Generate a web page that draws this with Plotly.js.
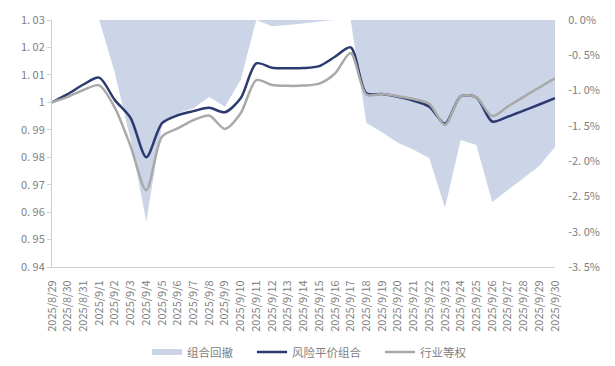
<!DOCTYPE html>
<html>
<head>
<meta charset="utf-8">
<script src="https://cdn.plot.ly/plotly-3.0.1.min.js"></script>
<style>html,body{margin:0;padding:0;background:#fff}#chart{width:615px;height:366px}</style>
</head>
<body>
<div id="chart"></div>
<script>
var dates = ['2025/8/29','2025/8/30','2025/8/31','2025/9/1','2025/9/2','2025/9/3','2025/9/4','2025/9/5','2025/9/6','2025/9/7','2025/9/8','2025/9/9','2025/9/10','2025/9/11','2025/9/12','2025/9/13','2025/9/14','2025/9/15','2025/9/16','2025/9/17','2025/9/18','2025/9/19','2025/9/20','2025/9/21','2025/9/22','2025/9/23','2025/9/24','2025/9/25','2025/9/26','2025/9/27','2025/9/28','2025/9/29','2025/9/30'];

// 组合回撤 (%)
var drawdown = [0,0,0,0,-0.75,-1.7,-2.86,-1.48,-1.32,-1.25,-1.09,-1.23,-0.85,0,-0.09,-0.07,-0.05,-0.02,0,0,-1.46,-1.59,-1.74,-1.84,-1.96,-2.66,-1.70,-1.77,-2.58,-2.41,-2.24,-2.07,-1.80];

// 风险平价组合
var riskParity = [1.000,1.003,1.0065,1.009,1.0008,0.9943,0.980,0.9924,0.9953,0.9968,0.998,0.9964,1.0015,1.0142,1.0126,1.0124,1.0125,1.0132,1.0166,1.0200,1.0033,1.0030,1.0020,1.0006,0.9984,0.9922,1.0022,1.0018,0.9930,0.9948,0.9970,0.9992,1.0015];

// 行业等权
var equalWeight = [1.000,1.002,1.0045,1.0062,0.998,0.984,0.968,0.9875,0.9905,0.9935,0.9952,0.9903,0.996,1.0081,1.0063,1.0060,1.0061,1.0068,1.0105,1.0180,1.0028,1.0030,1.0022,1.0012,0.9995,0.9917,1.0022,1.0018,0.9950,0.9985,1.0020,1.0054,1.0088];

var leftTicks = [1.03,1.02,1.01,1,0.99,0.98,0.97,0.96,0.95,0.94];
var leftTickText = ['1. 03','1. 02','1. 01','1','0. 99','0. 98','0. 97','0. 96','0. 95','0. 94'];
var rightTicks = [0,-0.5,-1,-1.5,-2,-2.5,-3,-3.5];
var rightTickText = ['0. 0%','-0. 5%','-1. 0%','-1. 5%','-2. 0%','-2. 5%','-3. 0%','-3. 5%'];

var font = 'Noto Sans CJK SC, Noto Sans, sans-serif';

var traces = [
  {x: dates, y: drawdown, name: '组合回撤', type: 'scatter', mode: 'none', legend: 'legend',
   fill: 'tozeroy', fillcolor: '#ccd5e8', yaxis: 'y', line: {shape: 'linear'}},
  {x: dates, y: riskParity, name: '风险平价组合', type: 'scatter', mode: 'lines', legend: 'legend2',
   line: {color: '#2c3a6f', width: 2.5, shape: 'spline', smoothing: 0.8}, yaxis: 'y2'},
  {x: dates, y: equalWeight, name: '行业等权', type: 'scatter', mode: 'lines', legend: 'legend3',
   line: {color: '#a9a9a9', width: 2.5, shape: 'spline', smoothing: 0.8}, yaxis: 'y2'}
];

function leg(px) {
  return {orientation: 'h', xref: 'container', yref: 'container', x: px / 615, xanchor: 'left',
          y: (366 - 352) / 366, yanchor: 'middle',
          bgcolor: 'rgba(0,0,0,0)', font: {family: font, size: 11.5, color: '#808080'}, itemwidth: 30};
}

var layout = {
  width: 615, height: 366,
  margin: {l: 52, r: 60, t: 20, b: 99},
  paper_bgcolor: '#ffffff', plot_bgcolor: '#ffffff',
  font: {family: font, size: 11, color: '#808080'},
  showlegend: true,
  legend: leg(147),
  legend2: leg(252),
  legend3: leg(380),
  xaxis: {type: 'category', range: [0, 32], tickangle: -90, showgrid: false,
          showline: true, linecolor: '#d0d0d0', linewidth: 1, zeroline: false,
          ticks: 'outside', ticklen: 8, tickcolor: 'rgba(0,0,0,0)',
          tickfont: {family: font, size: 11, color: '#808080'}, automargin: false},
  yaxis: {side: 'right', range: [-3.5, 0], tickvals: rightTicks, ticktext: rightTickText,
          showgrid: false, zeroline: false, showline: false,
          ticks: 'outside', ticklen: 10, tickcolor: 'rgba(0,0,0,0)',
          tickfont: {family: font, size: 11, color: '#808080'}, automargin: false},
  yaxis2: {side: 'left', overlaying: 'y', range: [0.94, 1.03], tickvals: leftTicks, ticktext: leftTickText,
           showgrid: false, zeroline: false, showline: true, linecolor: '#d0d0d0', linewidth: 1,
           ticks: 'outside', ticklen: 4, tickcolor: '#d0d0d0',
           tickfont: {family: font, size: 11, color: '#808080'}, automargin: false}
};

Plotly.newPlot('chart', traces, layout, {displayModeBar: false, staticPlot: true});
</script>
</body>
</html>
